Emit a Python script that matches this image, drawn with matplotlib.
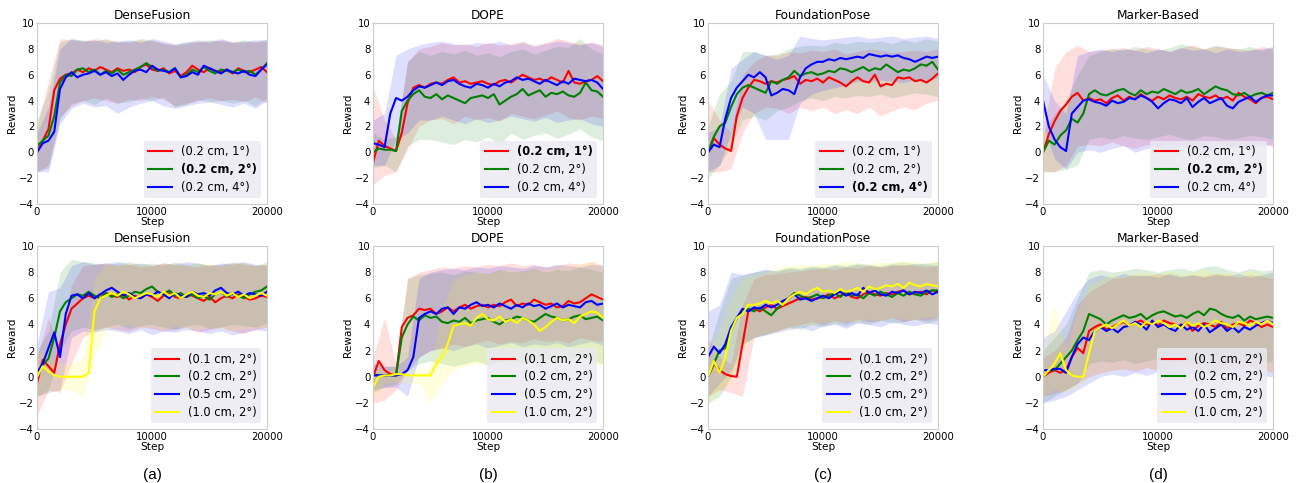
import matplotlib.pyplot as plt
import numpy as np

# steps: line values every 500 steps, band edges every 1000 steps
steps = np.arange(0, 20001, 500)
band_steps = np.arange(0, 20001, 1000)

top_labels = ["(0.2 cm, 1°)", "(0.2 cm, 2°)", "(0.2 cm, 4°)"]
bottom_labels = ["(0.1 cm, 2°)", "(0.2 cm, 2°)", "(0.5 cm, 2°)", "(1.0 cm, 2°)"]
titles = ["DenseFusion", "DOPE", "FoundationPose", "Marker-Based"]
top_bold = [1, 0, 2, 1]
panel_tags = ["(a)", "(b)", "(c)", "(d)"]

# %% DenseFusion, top
df1_red = [0.0, 0.9, 1.8, 4.8, 5.7, 6.0, 6.1, 6.4, 6.2, 6.5, 6.3, 6.6, 6.4, 6.2, 6.5, 6.3, 6.4, 6.2, 6.6, 6.8, 6.4,
           6.3, 6.5, 6.1, 6.3, 5.9, 6.2, 6.7, 6.4, 6.2, 6.5, 6.3, 6.2, 6.4, 6.1, 6.5, 6.3, 6.2, 6.4, 6.6, 6.2]
df1_green = [0.5, 0.9, 1.3, 2.8, 5.4, 6.0, 5.9, 6.4, 6.5, 6.2, 6.4, 6.0, 6.3, 6.1, 6.4, 6.0, 6.2, 6.4, 6.6, 6.9, 6.6,
             6.3, 6.4, 6.2, 6.5, 5.8, 6.0, 6.4, 6.2, 6.6, 6.3, 6.1, 6.4, 6.3, 6.2, 6.4, 6.2, 6.3, 6.0, 6.4, 6.9]
df1_blue = [0.0, 0.7, 0.9, 1.6, 4.9, 5.8, 6.2, 5.8, 6.0, 6.1, 6.3, 6.0, 6.2, 5.9, 6.1, 5.6, 6.0, 6.3, 6.4, 6.2, 6.7,
            6.4, 6.3, 6.2, 6.5, 5.8, 5.9, 6.2, 6.0, 6.7, 6.5, 6.3, 6.1, 6.4, 6.2, 6.1, 6.3, 6.0, 5.9, 6.4, 6.8]
df1_red_hi = [2.0, 5.5, 8.8, 8.7, 8.6, 8.8, 8.7, 8.6, 8.5, 8.7, 8.6, 8.5, 8.3, 8.4, 8.6, 8.5, 8.7, 8.6, 8.5, 8.6, 8.6]
df1_red_lo = [-1.5, -1.0, 2.8, 3.6, 4.0, 4.2, 4.0, 3.8, 4.1, 4.0, 4.3, 4.1, 3.6, 3.8, 4.0, 4.2, 4.0, 4.1, 3.9, 4.3, 3.8]
df1_green_hi = [2.5, 4.8, 8.5, 8.8, 8.7, 8.6, 8.8, 8.5, 8.6, 8.8, 8.7, 8.4, 8.3, 8.6, 8.5, 8.7, 8.6, 8.5, 8.7, 8.5, 8.8]
df1_green_lo = [-1.5, -1.2, 2.5, 3.8, 4.0, 3.7, 4.2, 3.8, 3.9, 4.2, 4.0, 4.3, 3.5, 3.7, 4.1, 3.9, 4.0, 3.8, 4.0, 3.6, 4.2]
df1_blue_hi = [1.5, 3.5, 8.0, 8.8, 8.6, 8.7, 8.5, 8.6, 8.7, 8.5, 8.8, 8.6, 8.4, 8.5, 8.7, 8.6, 8.8, 8.5, 8.6, 8.7, 8.7]
df1_blue_lo = [-1.5, -1.5, 2.2, 3.4, 3.8, 3.5, 3.6, 3.0, 3.5, 3.8, 4.0, 3.6, 3.4, 3.6, 3.8, 3.9, 3.7, 3.5, 3.8, 3.4, 4.0]

# %% DOPE, top
dope1_red = [-0.8, 0.9, 0.5, 0.3, 0.1, 1.5, 3.8, 5.0, 5.2, 5.0, 5.3, 5.4, 5.3, 5.6, 5.8, 5.4, 5.5, 5.3, 5.4, 5.5, 5.3,
             5.2, 5.5, 5.6, 5.4, 5.7, 6.0, 5.8, 5.6, 5.7, 5.5, 5.8, 5.6, 5.4, 6.3, 5.4, 5.3, 5.5, 5.6, 5.9, 5.5]
dope1_green = [0.0, 0.3, 0.2, 0.2, 0.1, 3.2, 4.0, 4.5, 4.8, 4.3, 4.2, 4.5, 4.1, 4.4, 4.2, 4.0, 3.8, 4.2, 4.3, 4.4, 4.2,
               4.5, 3.7, 4.0, 4.3, 4.5, 4.9, 4.4, 4.6, 4.8, 4.3, 4.6, 4.5, 4.7, 4.4, 4.3, 4.6, 5.4, 4.8, 4.7, 4.3]
dope1_blue = [0.7, 0.6, 0.4, 3.0, 4.2, 4.0, 4.3, 4.8, 5.1, 5.0, 5.2, 5.4, 5.2, 5.5, 5.6, 5.3, 5.1, 5.0, 5.3, 5.2, 5.0,
              5.3, 5.1, 5.4, 5.5, 5.8, 5.6, 5.7, 5.5, 5.3, 5.6, 5.4, 5.2, 5.5, 5.3, 5.7, 5.6, 5.5, 5.6, 5.4, 4.9]
dope1_red_hi = [5.0, 2.5, 1.0, 7.0, 8.0, 8.2, 8.5, 8.3, 8.4, 8.2, 8.5, 8.3, 8.4, 8.6, 8.3, 8.5, 8.8, 8.6, 8.4, 8.5, 8.3]
dope1_red_lo = [-2.5, -1.8, -1.5, 0.2, 2.0, 2.5, 2.6, 2.2, 2.8, 2.5, 2.7, 2.4, 3.0, 2.8, 2.6, 2.9, 3.2, 2.7, 2.5, 2.8, 2.6]
dope1_green_hi = [1.5, 1.0, 1.2, 7.0, 7.8, 7.5, 7.8, 7.6, 7.9, 7.5, 7.7, 7.4, 7.8, 8.0, 7.6, 7.9, 8.2, 8.1, 8.8, 8.0, 7.6]
dope1_green_lo = [-1.2, -1.0, -1.5, 0.5, 1.0, 1.0, 0.8, 0.6, 1.0, 0.8, 1.2, 0.6, 1.5, 1.0, 1.3, 1.5, 1.1, 1.4, 1.8, 1.2, 0.9]
dope1_blue_hi = [2.5, 3.0, 7.5, 8.0, 8.3, 8.5, 8.6, 8.4, 8.3, 8.5, 8.4, 8.6, 8.3, 8.5, 8.2, 8.4, 8.6, 8.5, 8.3, 8.5, 8.2]
dope1_blue_lo = [-1.0, -1.0, 1.0, 1.5, 2.5, 2.5, 2.8, 2.5, 2.2, 2.6, 2.3, 2.5, 2.8, 2.6, 2.4, 2.7, 2.3, 2.5, 2.6, 2.2, 2.0]

# %% FoundationPose, top
fp1_red = [0.0, 1.1, 0.6, 0.3, 0.1, 2.8, 4.2, 5.0, 5.6, 5.5, 5.3, 5.5, 5.4, 5.6, 5.7, 5.9, 5.3, 5.6, 5.5, 5.7, 5.4,
           5.8, 5.6, 5.4, 5.1, 5.5, 5.8, 5.5, 5.4, 6.0, 5.1, 5.3, 5.2, 5.8, 5.7, 5.8, 5.5, 5.6, 5.4, 5.7, 6.1]
fp1_green = [0.0, 1.2, 2.0, 2.3, 3.5, 4.5, 5.0, 5.2, 5.0, 4.8, 4.6, 5.5, 5.3, 5.6, 5.8, 6.3, 5.9, 6.1, 6.2, 6.0, 6.1,
             6.3, 6.2, 6.5, 6.4, 6.2, 6.4, 6.6, 6.3, 6.5, 6.4, 6.8, 6.5, 6.2, 6.4, 6.3, 6.5, 6.8, 6.7, 7.0, 6.4]
fp1_blue = [0.0, 0.6, 0.4, 2.6, 4.2, 5.0, 5.5, 6.0, 5.8, 6.2, 5.8, 4.4, 4.6, 4.9, 4.8, 4.5, 5.8, 6.5, 6.8, 7.0, 7.0,
            7.2, 7.1, 7.3, 7.2, 7.3, 7.4, 7.3, 7.6, 7.5, 7.4, 7.5, 7.4, 7.5, 7.3, 7.2, 7.0, 7.2, 7.4, 7.3, 7.4]
fp1_red_hi = [4.0, 2.5, 1.5, 6.0, 7.0, 7.5, 7.5, 7.8, 7.7, 7.9, 7.8, 8.0, 7.6, 7.8, 8.0, 7.9, 7.7, 7.8, 7.9, 7.8, 8.0]
fp1_red_lo = [-1.5, -1.5, -1.3, 1.5, 3.0, 3.5, 3.4, 3.0, 3.5, 3.2, 3.5, 3.0, 3.3, 3.0, 3.5, 2.8, 3.2, 3.5, 3.3, 3.8, 4.0]
fp1_green_hi = [2.0, 4.5, 5.5, 7.8, 7.8, 7.5, 7.6, 8.0, 8.2, 8.3, 8.2, 8.5, 8.4, 8.6, 8.5, 8.6, 8.4, 8.7, 8.5, 8.8, 8.6]
fp1_green_lo = [-2.0, -1.0, 0.5, 2.5, 2.8, 2.5, 3.2, 3.5, 4.0, 4.2, 4.0, 4.3, 4.2, 4.4, 4.3, 4.5, 4.2, 4.4, 4.6, 4.5, 4.3]
fp1_blue_hi = [1.5, 2.0, 6.5, 7.2, 7.8, 7.5, 7.2, 7.5, 9.0, 8.8, 8.7, 8.8, 8.9, 9.0, 8.8, 8.9, 9.0, 8.8, 8.9, 9.0, 8.8]
fp1_blue_lo = [-1.5, -1.0, 1.5, 3.5, 3.0, 1.0, 1.0, 1.0, 3.8, 4.5, 4.8, 5.0, 5.2, 5.5, 5.4, 5.6, 5.5, 5.4, 5.6, 5.5, 5.8]

# %% Marker-Based, top
mb1_red = [0.0, 1.4, 2.4, 3.2, 3.7, 4.3, 4.6, 4.0, 4.2, 4.0, 4.1, 3.8, 4.2, 4.4, 4.0, 4.3, 4.1, 4.5, 4.2, 4.0, 4.3,
           4.1, 4.4, 4.2, 4.1, 4.3, 4.0, 4.5, 4.3, 4.2, 4.4, 4.1, 4.3, 4.0, 4.6, 4.3, 4.1, 3.8, 4.2, 4.3, 4.1]
mb1_green = [0.0, 0.9, 0.6, 1.3, 1.7, 2.6, 2.3, 3.0, 4.5, 4.8, 4.5, 4.4, 4.6, 4.8, 4.9, 4.6, 4.4, 4.8, 4.5, 4.7, 4.6,
             4.9, 4.7, 4.5, 4.8, 4.6, 4.7, 4.9, 4.5, 4.8, 5.1, 4.9, 4.8, 4.5, 4.4, 4.6, 4.3, 4.5, 4.6, 4.4, 4.6]
mb1_blue = [4.0, 2.0, 1.0, 0.4, 0.1, 3.0, 3.5, 4.0, 4.1, 3.9, 3.8, 3.6, 4.0, 3.8, 3.9, 4.2, 4.1, 4.4, 4.2, 3.9, 3.4,
            3.8, 4.1, 4.0, 3.8, 4.2, 3.5, 3.9, 4.2, 3.8, 4.0, 4.2, 3.6, 3.4, 3.9, 4.1, 4.3, 3.9, 4.2, 4.4, 4.4]
mb1_red_hi = [1.5, 6.5, 7.8, 8.3, 7.8, 7.9, 8.0, 8.1, 7.9, 8.2, 8.0, 7.8, 8.1, 8.3, 8.0, 8.2, 8.1, 8.0, 7.9, 8.2, 8.0]
mb1_red_lo = [-1.5, -1.5, -1.0, 0.5, 0.6, 0.5, 0.8, 0.5, 0.3, 0.6, 0.4, 0.7, 0.5, 0.3, 0.6, 0.8, 0.5, 0.4, 0.6, 0.7, 0.4]
mb1_green_hi = [1.5, 3.0, 4.0, 6.0, 7.5, 7.8, 8.0, 7.9, 8.2, 8.0, 7.9, 8.1, 8.4, 8.2, 8.0, 8.3, 8.1, 8.0, 8.2, 7.9, 8.1]
mb1_green_lo = [-1.5, -1.5, -1.3, -1.0, 1.0, 1.2, 1.0, 1.3, 1.1, 1.0, 1.2, 1.4, 1.1, 1.0, 1.3, 1.2, 1.0, 1.1, 1.3, 1.2, 1.0]
mb1_blue_hi = [6.0, 4.0, 3.0, 7.5, 7.8, 8.0, 7.8, 8.0, 7.9, 7.7, 8.0, 7.8, 8.1, 7.9, 8.0, 7.7, 8.0, 7.8, 7.9, 8.0, 8.2]
mb1_blue_lo = [2.0, -0.5, -1.3, 0.0, 0.2, 0.0, 0.3, 0.5, 0.0, 0.3, 0.4, 0.1, 0.5, 0.3, 0.0, 0.4, 0.2, 0.5, 0.3, 0.5, 0.6]

# %% DenseFusion, bottom
df2_red = [-0.5, 1.3, 0.8, 0.3, 2.5, 4.0, 5.2, 5.6, 6.0, 6.2, 6.0, 6.3, 6.4, 6.2, 6.1, 6.3, 5.9, 6.2, 6.0, 6.3, 6.1,
           5.8, 6.2, 6.4, 6.1, 6.0, 6.3, 6.2, 6.0, 5.8, 6.1, 5.7, 6.0, 6.2, 6.0, 6.3, 6.1, 5.9, 6.0, 6.2, 6.1]
df2_green = [0.0, 0.9, 1.4, 3.0, 5.0, 5.7, 6.0, 6.3, 6.2, 6.5, 6.2, 6.0, 6.4, 6.1, 6.3, 6.0, 6.2, 6.5, 6.4, 6.7, 6.9,
             6.5, 6.3, 6.6, 6.2, 6.4, 6.1, 6.3, 6.0, 6.2, 5.9, 6.3, 6.5, 6.1, 6.4, 6.2, 6.0, 6.3, 6.5, 6.6, 6.9]
df2_blue = [0.3, 1.0, 2.2, 3.4, 1.5, 4.8, 6.2, 6.3, 6.0, 6.4, 6.0, 6.3, 6.6, 6.8, 6.5, 6.2, 6.4, 6.1, 6.0, 6.3, 6.2,
            6.5, 6.3, 6.0, 6.4, 6.2, 6.1, 6.5, 6.3, 6.4, 6.2, 6.6, 6.8, 6.4, 6.3, 6.5, 6.2, 6.4, 6.3, 6.2, 6.5]
df2_yellow = [0.0, 0.8, 0.4, 0.1, 0.0, 0.0, 0.0, 0.0, 0.0, 0.3, 5.0, 6.0, 6.2, 6.4, 6.2, 6.5, 6.3, 6.0, 6.2, 6.4, 6.3,
              6.1, 6.5, 6.2, 6.4, 6.0, 6.3, 6.5, 6.2, 6.1, 6.4, 6.3, 6.5, 6.2, 6.4, 6.1, 6.3, 6.0, 6.2, 6.4, 6.2]
df2_red_hi = [1.5, 4.5, 2.0, 7.0, 8.5, 8.6, 8.7, 8.5, 8.6, 8.4, 8.5, 8.7, 8.6, 8.5, 8.4, 8.6, 8.5, 8.7, 8.6, 8.5, 8.6]
df2_red_lo = [-3.0, -1.0, -1.2, 1.0, 3.0, 3.5, 3.8, 3.6, 3.5, 3.8, 3.7, 3.5, 3.6, 3.8, 3.4, 3.6, 3.8, 3.5, 3.3, 3.6, 3.8]
df2_green_hi = [2.0, 3.5, 8.0, 9.0, 8.8, 8.7, 8.6, 8.7, 8.8, 8.6, 8.7, 8.5, 8.8, 8.6, 8.7, 8.5, 8.6, 8.8, 8.7, 8.5, 8.8]
df2_green_lo = [-1.5, -1.0, 2.0, 3.5, 3.8, 3.6, 3.8, 4.0, 3.7, 3.9, 4.0, 3.8, 3.6, 3.9, 4.0, 3.7, 3.8, 4.0, 3.9, 3.8, 4.1]
df2_blue_hi = [2.5, 6.5, 6.8, 8.5, 8.8, 8.6, 8.7, 8.8, 8.6, 8.7, 8.5, 8.7, 8.6, 8.8, 8.7, 8.5, 8.7, 8.6, 8.8, 8.6, 8.5]
df2_blue_lo = [-1.5, -1.2, -1.0, 3.0, 3.5, 3.4, 3.6, 3.5, 3.3, 3.6, 3.2, 3.5, 3.4, 3.6, 3.5, 3.3, 3.5, 3.2, 3.4, 3.6, 3.5]
df2_yellow_hi = [2.0, 1.5, 1.0, 1.0, 1.5, 7.5, 8.6, 8.5, 8.7, 8.6, 8.5, 8.7, 8.6, 8.5, 8.7, 8.6, 8.5, 8.6, 8.7, 8.5, 8.6]
df2_yellow_lo = [-1.5, -1.2, -1.0, -1.0, -1.5, 1.5, 3.6, 3.8, 4.0, 3.7, 3.8, 3.6, 3.9, 3.7, 3.6, 3.8, 3.7, 3.5, 3.6, 3.8, 3.7]

# %% DOPE, bottom
dope2_red = [0.0, 1.2, 0.5, 0.2, 0.1, 3.8, 4.5, 4.7, 5.2, 5.1, 5.2, 4.8, 5.0, 5.3, 5.0, 5.3, 5.5, 5.2, 5.4, 5.5, 5.3,
             5.5, 5.4, 5.7, 5.9, 5.4, 5.6, 5.5, 5.9, 5.7, 5.5, 5.6, 5.3, 5.4, 5.8, 5.6, 5.7, 6.0, 6.3, 6.1, 5.9]
dope2_green = [0.2, 0.1, 0.1, 0.1, 0.1, 3.0, 4.0, 4.6, 4.3, 4.7, 4.5, 4.6, 4.2, 4.1, 4.3, 4.2, 4.5, 4.1, 4.3, 4.4, 4.5,
               4.2, 4.0, 4.3, 4.4, 4.6, 4.5, 4.3, 4.2, 4.5, 4.8, 4.6, 4.5, 4.3, 4.4, 4.6, 4.7, 4.4, 4.5, 4.6, 4.3]
dope2_blue = [0.1, 0.1, 0.1, 0.1, 0.1, 0.2, 0.5, 1.5, 4.5, 4.8, 5.0, 4.8, 5.2, 5.3, 4.8, 5.3, 5.2, 5.5, 5.7, 5.4, 5.5,
              5.3, 5.6, 5.4, 5.2, 5.5, 5.3, 5.6, 5.4, 5.5, 5.2, 5.4, 5.6, 5.3, 5.5, 5.4, 5.3, 5.7, 5.8, 5.5, 5.6]
dope2_yellow = [-0.8, 0.0, 0.1, 0.1, 0.2, 0.2, 0.1, 0.1, 0.1, 0.1, 0.1, 1.0, 1.5, 2.5, 3.9, 4.0, 4.1, 3.9, 4.5, 4.8, 4.4,
                4.3, 4.6, 4.2, 4.4, 4.1, 4.5, 4.3, 4.0, 3.5, 3.8, 4.2, 4.5, 4.3, 4.4, 4.1, 4.6, 4.8, 5.0, 4.9, 4.5]
dope2_red_hi = [1.5, 4.5, 1.0, 7.5, 8.0, 8.2, 8.4, 8.3, 8.5, 8.4, 8.6, 8.5, 8.7, 8.5, 8.6, 8.4, 8.5, 8.7, 8.6, 8.8, 8.5]
dope2_red_lo = [-2.0, -1.8, -1.0, 0.5, 1.5, 2.0, 2.2, 2.5, 2.3, 2.6, 2.8, 2.5, 2.7, 2.6, 2.9, 2.7, 2.8, 2.6, 3.0, 2.8, 2.7]
dope2_green_hi = [1.0, 0.8, 0.8, 7.5, 7.8, 7.9, 8.0, 7.8, 8.1, 8.0, 7.9, 8.2, 8.0, 8.1, 8.3, 8.0, 8.2, 8.1, 8.4, 8.2, 8.0]
dope2_green_lo = [-1.2, -0.8, -0.6, 0.5, 1.0, 1.2, 1.0, 0.8, 1.0, 1.2, 0.9, 1.1, 1.3, 1.0, 1.2, 1.4, 1.1, 1.3, 1.5, 1.2, 1.0]
dope2_blue_hi = [1.0, 0.8, 0.8, 1.5, 7.5, 8.0, 8.2, 8.3, 8.2, 8.4, 8.3, 8.5, 8.4, 8.3, 8.5, 8.4, 8.6, 8.5, 8.4, 8.6, 8.5]
dope2_blue_lo = [-1.0, -0.8, -0.8, -1.5, 1.5, 2.0, 2.2, 2.0, 2.3, 2.5, 2.2, 2.4, 2.6, 2.3, 2.5, 2.4, 2.6, 2.3, 2.5, 2.7, 2.4]
dope2_yellow_hi = [0.5, 0.5, 0.6, 0.5, 0.5, 0.8, 5.0, 7.5, 7.8, 8.0, 7.9, 8.1, 8.2, 8.0, 8.3, 8.2, 8.4, 8.5, 8.6, 8.8, 8.4]
dope2_yellow_lo = [-2.0, -0.5, -0.4, -0.5, -0.5, -2.0, -0.5, 0.5, 0.8, 1.0, 0.9, 1.2, 0.8, 1.0, 1.3, 1.1, 0.9, 1.2, 1.4, 1.0, 0.8]

# %% FoundationPose, bottom
fp2_red = [0.0, 1.0, 0.5, 0.2, 0.05, 0.0, 2.5, 5.0, 5.2, 5.0, 5.3, 5.5, 5.2, 5.4, 5.6, 5.8, 6.0, 6.1, 5.9, 6.0, 6.1,
           6.3, 6.0, 6.2, 6.4, 6.1, 6.0, 6.3, 6.5, 6.3, 6.2, 6.4, 6.3, 6.5, 6.6, 6.3, 6.4, 6.5, 6.3, 6.6, 6.5]
fp2_green = [0.0, 1.0, 2.0, 2.2, 3.5, 4.5, 5.0, 5.2, 5.0, 5.3, 5.0, 4.7, 5.2, 5.6, 6.0, 6.4, 6.2, 6.0, 6.1, 6.3, 6.0,
             6.2, 6.4, 6.1, 6.5, 6.2, 6.3, 6.0, 6.4, 6.2, 6.5, 6.3, 6.1, 6.4, 6.2, 6.5, 6.3, 6.2, 6.5, 6.6, 6.6]
fp2_blue = [1.5, 2.3, 1.8, 2.5, 3.8, 4.5, 5.2, 5.0, 5.3, 5.2, 5.5, 5.3, 5.5, 5.8, 6.0, 6.3, 5.9, 6.0, 5.8, 6.0, 6.2,
            6.0, 6.3, 6.5, 6.2, 6.4, 6.2, 6.8, 6.4, 6.6, 6.3, 6.2, 6.5, 6.4, 6.6, 6.3, 6.5, 6.4, 6.6, 6.3, 6.5]
fp2_yellow = [0.0, 1.2, 0.3, 1.5, 3.5, 4.5, 4.8, 5.5, 5.5, 5.6, 5.8, 5.6, 5.8, 5.5, 6.0, 6.3, 6.5, 6.3, 6.6, 6.8, 6.5,
              6.6, 6.4, 6.7, 6.5, 6.6, 6.8, 6.5, 6.9, 6.7, 6.8, 7.0, 6.9, 7.1, 6.8, 7.2, 7.0, 6.9, 7.1, 7.0, 6.9]
fp2_red_hi = [3.0, 1.5, 1.0, 5.5, 7.5, 7.8, 7.9, 8.0, 8.1, 8.2, 8.3, 8.2, 8.4, 8.3, 8.5, 8.4, 8.5, 8.6, 8.5, 8.4, 8.5]
fp2_red_lo = [-1.5, -1.0, -1.2, -1.5, 3.0, 3.3, 3.5, 3.8, 4.0, 4.2, 4.0, 4.3, 4.1, 4.4, 4.2, 4.3, 4.5, 4.2, 4.4, 4.3, 4.5]
fp2_green_hi = [2.0, 5.0, 7.5, 7.8, 8.0, 8.2, 8.1, 8.4, 8.3, 8.5, 8.4, 8.6, 8.5, 8.7, 8.6, 8.5, 8.7, 8.8, 8.6, 8.7, 8.8]
fp2_green_lo = [-2.0, -1.5, 0.0, 2.5, 3.0, 3.2, 3.5, 3.8, 3.6, 4.0, 3.8, 4.1, 3.9, 4.2, 4.0, 4.3, 4.1, 4.2, 4.4, 4.1, 4.3]
fp2_blue_hi = [5.0, 5.5, 8.0, 7.8, 8.0, 8.2, 8.1, 8.3, 8.2, 8.4, 8.3, 8.5, 8.4, 8.6, 8.5, 8.4, 8.6, 8.5, 8.7, 8.6, 8.5]
fp2_blue_lo = [-1.5, -0.5, 0.5, 2.5, 3.0, 3.2, 3.4, 3.6, 3.8, 3.5, 3.9, 4.0, 3.7, 4.1, 4.0, 3.8, 4.2, 4.0, 3.9, 4.1, 4.0]
fp2_yellow_hi = [2.0, 3.5, 6.0, 7.5, 7.8, 8.0, 8.3, 8.5, 8.6, 8.5, 8.7, 8.6, 8.8, 8.7, 8.6, 8.8, 8.7, 8.9, 8.8, 8.7, 8.9]
fp2_yellow_lo = [-2.0, -1.0, -0.5, 2.2, 3.0, 3.3, 3.5, 3.7, 4.0, 3.9, 4.2, 4.1, 4.3, 4.2, 4.4, 4.3, 4.5, 4.4, 4.3, 4.6, 4.5]

# %% Marker-Based, bottom
mb2_red = [0.0, 0.3, 0.5, 0.3, 0.5, 1.5, 2.2, 1.8, 3.5, 3.8, 4.0, 3.6, 3.8, 4.0, 4.2, 3.9, 4.1, 4.3, 4.0, 4.2, 3.9,
           4.3, 4.1, 4.0, 3.8, 4.2, 3.5, 3.9, 4.1, 4.0, 3.8, 4.2, 3.7, 4.0, 4.1, 3.9, 4.3, 4.1, 3.8, 4.0, 3.8]
mb2_green = [0.0, 0.5, 0.5, 1.0, 1.5, 2.0, 2.8, 3.5, 4.8, 4.6, 4.4, 4.0, 4.3, 4.5, 4.7, 4.5, 4.6, 4.8, 4.4, 4.7, 4.9,
             5.0, 4.8, 4.6, 4.7, 4.5, 4.8, 5.0, 4.7, 5.2, 5.1, 4.8, 4.6, 4.5, 4.7, 4.3, 4.6, 4.4, 4.5, 4.6, 4.5]
mb2_blue = [0.5, 0.5, 0.6, 0.6, 0.3, 1.5, 2.5, 3.0, 2.8, 3.5, 3.8, 3.5, 3.7, 3.4, 3.8, 3.9, 4.2, 4.0, 3.6, 4.3, 3.8,
            4.0, 3.7, 3.5, 4.0, 3.6, 3.8, 3.5, 4.0, 3.4, 3.7, 4.0, 3.5, 3.8, 3.4, 3.8, 3.6, 3.9, 4.1, 4.3, 4.1]
mb2_yellow = [0.0, 0.5, 1.0, 1.8, 0.5, 0.1, 0.0, 0.0, 1.8, 3.5, 3.8, 4.0, 3.7, 4.0, 4.3, 3.9, 4.1, 3.8, 4.2, 4.0, 4.3,
              4.1, 3.8, 4.0, 3.7, 4.2, 3.9, 4.1, 3.8, 4.0, 4.3, 4.1, 4.0, 3.8, 4.2, 4.1, 3.9, 4.2, 4.0, 4.3, 4.0]
mb2_red_hi = [1.5, 2.0, 3.0, 5.5, 6.5, 7.0, 7.5, 7.6, 7.8, 7.7, 7.9, 7.8, 7.6, 7.8, 7.7, 7.9, 7.8, 7.6, 7.8, 7.7, 7.5]
mb2_red_lo = [-1.5, -1.3, -1.0, -0.5, 0.0, 0.3, 0.5, 0.6, 0.4, 0.7, 0.5, 0.6, 0.8, 0.5, 0.7, 0.4, 0.6, 0.5, 0.8, 0.6, 0.3]
mb2_green_hi = [2.0, 3.0, 4.0, 6.0, 8.0, 8.2, 8.0, 8.1, 8.3, 8.2, 8.0, 8.2, 8.3, 8.1, 8.4, 8.5, 8.2, 8.0, 8.3, 8.1, 8.2]
mb2_green_lo = [-2.0, -1.5, -1.0, -0.5, 1.0, 1.2, 1.1, 1.3, 1.0, 1.2, 1.4, 1.1, 1.3, 1.2, 1.0, 1.3, 1.1, 1.2, 1.4, 1.0, 1.2]
mb2_blue_hi = [3.0, 3.5, 5.0, 6.5, 7.5, 7.8, 7.6, 7.9, 7.7, 7.8, 7.6, 7.9, 7.7, 7.8, 7.6, 7.8, 7.7, 7.9, 7.6, 7.8, 8.0]
mb2_blue_lo = [-2.0, -1.8, -1.5, -1.0, -0.5, 0.0, 0.2, 0.0, 0.3, 0.1, 0.4, 0.2, 0.0, 0.3, 0.2, 0.1, 0.3, 0.0, 0.2, 0.1, 0.0]
mb2_yellow_hi = [2.0, 5.5, 2.0, 5.0, 7.0, 7.5, 7.8, 7.7, 7.9, 8.0, 7.8, 8.1, 7.9, 8.0, 8.2, 7.9, 8.0, 7.8, 8.1, 7.9, 7.8]
mb2_yellow_lo = [-1.5, -1.0, -1.2, -0.8, 0.0, 0.3, 0.5, 0.6, 0.5, 0.7, 0.4, 0.6, 0.5, 0.7, 0.6, 0.4, 0.5, 0.7, 0.6, 0.5, 0.4]

# %% gather: (mean, lo, hi) per curve
top_panels = [
    [(df1_red, df1_red_lo, df1_red_hi), (df1_green, df1_green_lo, df1_green_hi), (df1_blue, df1_blue_lo, df1_blue_hi)],
    [(dope1_red, dope1_red_lo, dope1_red_hi), (dope1_green, dope1_green_lo, dope1_green_hi),
     (dope1_blue, dope1_blue_lo, dope1_blue_hi)],
    [(fp1_red, fp1_red_lo, fp1_red_hi), (fp1_green, fp1_green_lo, fp1_green_hi), (fp1_blue, fp1_blue_lo, fp1_blue_hi)],
    [(mb1_red, mb1_red_lo, mb1_red_hi), (mb1_green, mb1_green_lo, mb1_green_hi), (mb1_blue, mb1_blue_lo, mb1_blue_hi)],
]
bottom_panels = [
    [(df2_red, df2_red_lo, df2_red_hi), (df2_green, df2_green_lo, df2_green_hi), (df2_blue, df2_blue_lo, df2_blue_hi),
     (df2_yellow, df2_yellow_lo, df2_yellow_hi)],
    [(dope2_red, dope2_red_lo, dope2_red_hi), (dope2_green, dope2_green_lo, dope2_green_hi),
     (dope2_blue, dope2_blue_lo, dope2_blue_hi), (dope2_yellow, dope2_yellow_lo, dope2_yellow_hi)],
    [(fp2_red, fp2_red_lo, fp2_red_hi), (fp2_green, fp2_green_lo, fp2_green_hi), (fp2_blue, fp2_blue_lo, fp2_blue_hi),
     (fp2_yellow, fp2_yellow_lo, fp2_yellow_hi)],
    [(mb2_red, mb2_red_lo, mb2_red_hi), (mb2_green, mb2_green_lo, mb2_green_hi), (mb2_blue, mb2_blue_lo, mb2_blue_hi),
     (mb2_yellow, mb2_yellow_lo, mb2_yellow_hi)],
]
colors = ["#ff0000", "#008000", "#0000ff", "#ffff00"]

# %%
fig = plt.figure(figsize=(13.03, 4.83), dpi=100)
lefts = [0.0284, 0.2863, 0.5434, 0.8005]
width = 0.1765
rows = [(0.5776, 0.3747), (0.1118, 0.3789)]


def draw(ax, curves, labels, title, bold=None):
    for (mean, lo, hi), c in zip(curves, colors):
        ax.fill_between(band_steps, lo, hi, color=c, alpha=0.13, linewidth=0)
    for (mean, lo, hi), c, lab in zip(curves, colors, labels):
        ax.plot(steps, mean, color=c, lw=1.5, label=lab)
    ax.set_xlim(0, 20000)
    ax.set_ylim(-4, 10)
    ax.set_xticks([0, 10000, 20000])
    ax.set_yticks(range(-4, 11, 2))
    ax.tick_params(length=0, labelsize=7.3, pad=2)
    for s in ax.spines.values():
        s.set_color("#cccccc")
    ax.set_title(title, fontsize=8.7, pad=3)
    ax.set_xlabel("Step", fontsize=7.6, labelpad=0)
    ax.set_ylabel("Reward", fontsize=7.6, labelpad=2)
    leg = ax.legend(loc="lower right", fontsize=8.3, facecolor="#EAEAF2", edgecolor="none",
                    framealpha=0.85, labelspacing=0.4, handlelength=2.0)
    if bold is not None:
        leg.get_texts()[bold].set_fontweight("bold")


for i in range(4):
    ax = fig.add_axes([lefts[i], rows[0][0], width, rows[0][1]])
    draw(ax, top_panels[i], top_labels, titles[i], top_bold[i])
    ax = fig.add_axes([lefts[i], rows[1][0], width, rows[1][1]])
    draw(ax, bottom_panels[i], bottom_labels, titles[i])
    fig.text(lefts[i] + width / 2, 0.017, panel_tags[i], ha="center", va="center",
             fontsize=11, family="Liberation Sans")

fig.savefig("out.png", dpi=100)
